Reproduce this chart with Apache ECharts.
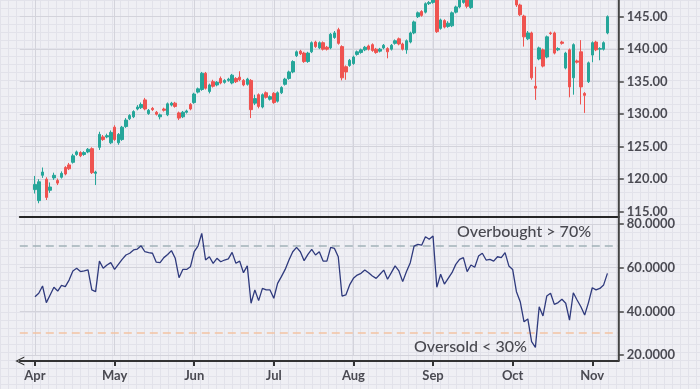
<!DOCTYPE html>
<html><head><meta charset="utf-8">
<script src="https://cdn.jsdelivr.net/npm/echarts@6/dist/echarts.min.js"></script>
<style>
html,body{margin:0;padding:0;}
body{width:700px;height:389px;background-color:#efeff4;
background-image:linear-gradient(#e2e2ea 1px,transparent 1px),linear-gradient(90deg,#e2e2ea 1px,transparent 1px);
background-size:8px 8px;}
#c{width:700px;height:389px;}
</style></head><body><div id="c"></div>
<script>
// ---- data ----
const monthLabels = ['Apr','May','Jun','Jul','Aug','Sep','Oct','Nov'];
const monthStartIdx = [0,21,42,63,84,105,126,147];

const openP = [118.4,116.7,120.6,120.0,118.3,120.2,119.8,120.3,121.8,122.2,
122.6,123.8,124.1,123.8,124.2,124.7,120.9,124.9,126.5,126.5,
125.6,128.0,125.6,126.1,128.1,129.3,129.6,130.8,131.0,132.2,
130.1,130.9,130.3,129.6,130.8,129.9,131.4,131.7,130.2,129.6,
130.3,131.5,131.8,133.4,133.8,136.3,133.5,135.0,134.5,135.5,
134.9,135.2,134.8,135.5,135.7,135.2,134.6,135.2,131.7,133.0,
131.1,133.3,132.3,133.2,132.0,133.3,134.6,135.5,136.5,139.0,
139.7,139.4,138.1,139.6,141.1,140.2,141.0,140.3,140.2,141.8,
143.0,140.4,137.3,137.5,137.8,139.2,139.5,139.9,140.5,140.7,
140.0,139.7,140.2,140.1,140.0,140.9,141.6,140.8,139.9,141.1,
142.5,145.0,145.8,145.7,147.0,147.2,148.3,143.2,144.4,143.5,
143.6,145.7,146.5,147.2,148.0,146.4,148.6,148.2,149.3,150.0,
149.2,149.5,149.0,150.1,149.8,150.8,149.4,148.4,146.8,145.1,
141.6,142.5,134.3,138.5,139.9,138.8,142.5,142.5,139.9,141.1,
137.1,139.9,135.6,138.2,139.6,133.2,135.0,139.1,141.1,140.0,
140.0,142.5];
const closeP = [119.2,119.6,121.1,117.2,118.8,120.6,119.4,120.9,120.8,121.6,
123.6,124.2,123.6,124.1,124.6,121.0,121.1,126.9,126.1,126.7,
127.2,126.1,126.9,128.0,129.1,129.8,130.4,131.1,131.5,130.8,
130.6,130.7,130.0,129.9,130.6,131.6,131.7,131.2,129.4,130.3,
130.5,130.8,133.1,133.9,136.3,134.0,134.5,134.3,134.9,134.8,
135.2,135.4,136.0,135.0,135.3,134.5,135.4,130.7,132.4,131.2,
133.0,132.6,132.7,131.8,133.3,134.1,135.4,136.5,138.1,139.6,
139.3,138.1,139.4,141.0,140.4,141.0,140.0,140.0,142.3,142.5,
140.9,135.6,136.5,138.3,138.8,139.6,139.9,140.3,140.0,139.8,
139.5,140.0,140.6,139.6,140.6,141.3,140.8,140.0,141.3,142.5,
144.2,145.6,145.2,147.0,147.2,147.8,142.7,144.5,143.4,144.0,
145.6,146.5,147.6,148.2,146.6,148.5,148.2,149.5,150.0,149.2,
149.4,149.1,150.0,149.8,150.8,149.2,148.4,146.8,145.3,141.9,
142.5,135.6,134.0,140.2,137.4,141.9,142.4,139.4,140.1,140.9,
139.4,134.2,140.7,138.0,134.2,132.9,137.9,141.0,139.9,140.1,
141.0,145.0];
const lowP = [117.8,116.3,120.2,116.8,117.9,119.9,119.1,120.1,120.6,121.4,
122.4,123.6,123.4,123.6,124.0,120.8,119.1,124.5,125.9,126.3,
125.4,125.9,125.3,125.9,127.9,129.1,129.4,130.6,130.8,130.6,
129.9,130.5,129.8,129.2,130.4,129.7,131.2,131.0,129.1,129.4,
130.1,130.6,131.6,133.2,133.6,133.8,133.2,134.1,134.3,134.6,
134.7,135.0,134.6,134.8,135.1,134.3,134.4,129.4,131.4,130.9,
130.9,132.4,132.1,131.6,131.8,133.1,134.4,135.3,136.3,138.8,
139.1,137.9,137.9,139.4,140.2,140.0,139.8,139.8,140.0,141.6,
140.7,135.2,135.3,137.3,137.6,139.0,139.3,139.7,139.8,139.6,
139.3,139.5,140.0,138.6,139.8,140.7,140.6,139.8,139.3,140.9,
142.3,144.8,145.0,145.5,146.8,147.0,142.5,143.0,143.2,143.3,
143.4,145.5,146.3,147.0,146.3,146.2,147.9,148.0,149.0,149.0,
149.0,148.9,148.8,149.5,149.6,148.9,148.1,146.5,145.1,140.4,
141.4,135.3,132.2,138.3,137.2,138.6,142.2,139.2,139.7,140.7,
136.9,132.6,133.0,137.8,131.5,130.2,134.8,138.0,139.7,138.3,
139.8,142.3];
const highP = [120.5,120.0,121.8,120.3,119.5,121.0,120.1,121.2,122.0,122.5,
123.9,124.4,124.3,124.3,124.8,124.9,121.3,127.3,126.8,127.0,
127.5,128.3,127.1,128.2,129.4,130.0,130.6,131.4,131.8,132.5,
130.8,131.1,130.5,130.1,131.0,131.8,131.9,131.9,130.4,130.5,
130.7,131.7,133.3,134.1,136.5,136.5,134.7,135.3,135.1,135.8,
135.4,135.6,136.2,135.7,136.6,135.4,135.6,135.4,133.0,133.2,
133.2,133.5,132.9,133.4,133.5,134.3,135.6,136.7,138.3,139.8,
139.9,139.6,139.6,141.2,141.3,141.2,141.2,140.5,142.5,142.8,
143.3,140.6,137.5,138.5,139.0,139.8,140.1,140.5,140.7,140.9,
140.2,140.2,140.8,140.3,140.8,141.5,141.8,141.0,141.5,142.7,
144.4,145.8,146.0,147.2,147.4,148.1,148.6,144.7,144.6,144.3,
145.8,146.7,147.9,148.5,148.3,148.8,148.9,149.8,150.3,150.2,
149.7,149.8,150.3,150.4,151.1,151.0,149.6,148.6,147.0,145.3,
142.8,142.7,137.3,140.4,140.1,142.1,142.7,142.7,140.3,141.3,
139.6,140.1,140.9,138.4,141.4,133.4,138.1,141.2,141.3,140.3,
141.2,145.2];
const rsiValues = [46.7,48.3,51.6,44,47.5,51,49.3,51.9,51.3,54.3,
58.5,59.7,58.2,58.5,59,49.8,49,63,59.7,61.2,
62.3,59.2,61.5,63.8,65.8,66.6,68.1,68.5,70,67.3,
66.9,66.6,62.5,62.3,64.6,66,67.8,64.3,55.4,59.2,
59.2,60.4,67.3,69.9,75.7,63.5,65,62,64.3,62.7,
63.5,64,67,62,63,57.7,60.8,43.7,49.8,44.9,
50.5,49.8,49.8,46,52.8,55.9,59.2,63.5,67.3,69.3,
67.3,63.2,66.1,68.4,65.8,67.3,63,63,69.3,68.8,
65,47,47.5,52.1,55.1,56.6,57.4,58.9,57.7,56.2,
55.1,57,58.9,54.7,57.7,60.8,58.5,53.6,58.2,62.3,
69.9,70.7,70.3,74.2,73,74.5,51,57,52.5,55.1,
57.7,61.5,63.8,64.6,58.2,61.2,60.2,65.3,66.6,63.5,
63.8,63,65,64.6,66.9,60.8,59.2,49,44.4,35.2,
36.5,26.1,23.5,42.1,37.9,47,48.3,43.2,44,45.5,
43.7,36,48.5,45.2,42.1,38.3,44,50.8,49.8,50.5,
52.1,57.4];
const priceAxis = {min:115, max:150, step:5};
const rsiAxis = {min:20, max:80, step:20};
const overbought = 70, oversold = 30;
const overboughtText = 'Overbought > 70%';
const oversoldText = 'Oversold < 30%';

// ---- layout / style ----
const PAD_START = 4, PAD_END = 3;
const GL = 19.8, GR = 81.2;
const W = 700, H = 389;
const AXIS_Y = 361;
const FONT = 'Lato';
const LABEL_COLOR = '#4a4a52';
const SPLIT = '#d3d3db';

const n = closeP.length;
const total = PAD_START + n + PAD_END;
const cats = Array.from({length: total}, (_, k) => String(k));
const monthAt = {};
monthStartIdx.forEach((d, j) => { monthAt[d + PAD_START] = monthLabels[j]; });
const isMonth = (k) => monthAt[k] !== undefined;
const pad = (arr) => Array(PAD_START).fill('-').concat(arr, Array(PAD_END).fill('-'));
const candleData = pad(openP.map((o, i) => [o, closeP[i], lowP[i], highP[i]]));
const rsiData = pad(rsiValues);

const chart = echarts.init(document.getElementById('c'), null, {renderer: 'canvas'});
chart.setOption({
  backgroundColor: 'transparent',
  animation: false,
  grid: [
    {left: GL, right: GR, top: -15.8, height: 227.5, outerBoundsMode: 'none', containLabel: false},
    {left: GL, right: GR, top: 224, height: 131, outerBoundsMode: 'none', containLabel: false}
  ],
  xAxis: [
    {gridIndex: 0, type: 'category', data: cats, boundaryGap: false, offset: 5.3,
     axisLine: {show: true, onZero: false, lineStyle: {color: '#262626', width: 2}},
     axisTick: {show: false}, axisLabel: {show: false},
     splitLine: {show: true, interval: (i) => isMonth(i), lineStyle: {color: SPLIT, width: 1}}},
    {gridIndex: 1, type: 'category', data: cats, boundaryGap: false, offset: AXIS_Y - 355,
     axisLine: {show: true, onZero: false, lineStyle: {color: '#333', width: 2},
       symbol: ['path://M0,10 L5,0 L10,10 L8.6,10 L5,2.6 L1.4,10 Z', 'none'], symbolSize: [11, 9]},
     axisTick: {show: true, interval: (i) => isMonth(i), length: 5, lineStyle: {color: '#333', width: 2}},
     axisLabel: {show: true, interval: (i) => isMonth(i), formatter: (v) => monthAt[+v] || '',
       color: LABEL_COLOR, fontSize: 13, fontFamily: FONT, fontWeight: 'bold', margin: 8},
     splitLine: {show: true, interval: (i) => isMonth(i), lineStyle: {color: SPLIT, width: 1}}}
  ],
  yAxis: [
    {gridIndex: 0, type: 'value', position: 'right', min: priceAxis.min, max: priceAxis.max, interval: priceAxis.step,
     axisLine: {show: false}, axisTick: {show: true, length: 5, lineStyle: {color: '#444', width: 1.5}},
     axisLabel: {formatter: (v) => v.toFixed(2), margin: 8, color: LABEL_COLOR, fontSize: 13, fontFamily: FONT, fontWeight: 'bold'},
     splitLine: {show: true, lineStyle: {color: SPLIT, width: 1}}},
    {gridIndex: 1, type: 'value', position: 'right', min: rsiAxis.min, max: rsiAxis.max, interval: rsiAxis.step,
     axisLine: {show: false}, axisTick: {show: true, length: 5, lineStyle: {color: '#444', width: 1.5}},
     axisLabel: {formatter: (v) => v.toFixed(4), margin: 8, color: LABEL_COLOR, fontSize: 13, fontFamily: FONT, fontWeight: 'bold'},
     splitLine: {show: true, lineStyle: {color: SPLIT, width: 1}}}
  ],
  series: [
    {type: 'candlestick', xAxisIndex: 0, yAxisIndex: 0, data: candleData, barWidth: 3,
     itemStyle: {color: '#26a69a', color0: '#ef5350', borderColor: '#26a69a', borderColor0: '#ef5350', borderWidth: 1}},
    {type: 'line', xAxisIndex: 1, yAxisIndex: 1, data: rsiData, symbol: 'none', z: 5,
     lineStyle: {color: '#2f3a7d', width: 1.3},
     markLine: {silent: true, symbol: ['none', 'none'], label: {show: false},
       data: [
         {yAxis: overbought, lineStyle: {color: '#a2b3b8', type: [8, 5], width: 1.5}},
         {yAxis: oversold, lineStyle: {color: '#f3c4a2', type: [8, 5], width: 1.5}}
       ]}}
  ],
  graphic: [
    {type: 'line', z: 100, shape: {x1: W - GR, y1: 0, x2: W - GR, y2: AXIS_Y}, style: {stroke: '#444', lineWidth: 2}},
    {type: 'text', z: 100, x: 457, y: 232, style: {text: overboughtText, font: '500 16px ' + FONT, fill: '#48484f', align: 'left', verticalAlign: 'middle'}},
    {type: 'text', z: 100, x: 414, y: 347, style: {text: oversoldText, font: '500 16px ' + FONT, fill: '#48484f', align: 'left', verticalAlign: 'middle'}}
  ]
});
</script></body></html>
